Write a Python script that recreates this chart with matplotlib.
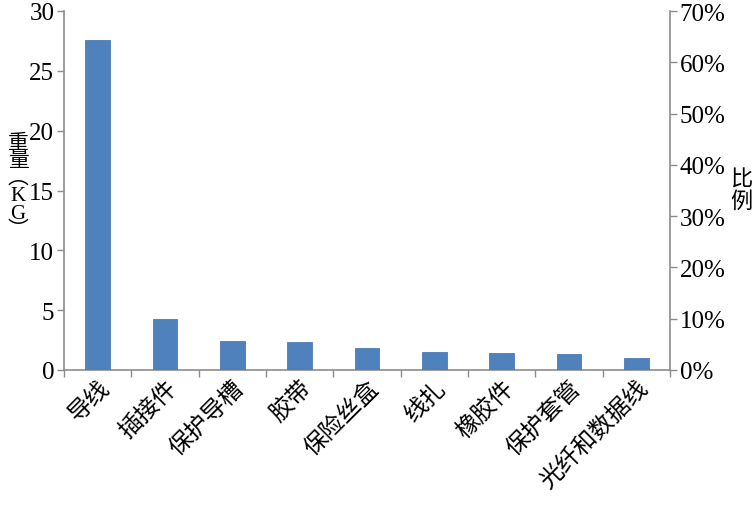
import matplotlib
matplotlib.use("Agg")
import matplotlib.pyplot as plt
import matplotlib.transforms as mtransforms
import numpy as np
from matplotlib.ticker import FixedLocator

categories = ["导线", "插接件", "保护导槽", "胶带", "保险丝盒", "线扎", "橡胶件", "保护套管", "光纤和数据线"]
weights = [27.6, 4.25, 2.45, 2.3, 1.8, 1.52, 1.39, 1.31, 0.98]
left_ticks = [0, 5, 10, 15, 20, 25, 30]
right_ticks = [0, 10, 20, 30, 40, 50, 60, 70]

cjk = ["Noto Sans CJK SC", "DejaVu Sans"]
serif = ["Liberation Serif", "DejaVu Serif"]
mixed = ["Liberation Serif", "Noto Sans CJK SC", "DejaVu Sans"]
gray = "#8c8c8c"

fig = plt.figure(figsize=(7.56, 5.06), dpi=100)
ax = fig.add_axes([64/756, 1-371/506, (670-64)/756, (371-12)/506])
x = np.arange(len(categories))
ax.bar(x, weights, width=0.37, color="#4F81BD", edgecolor="#4A7AB5", linewidth=0.6, zorder=3)
ax.set_xlim(-0.5, len(categories)-0.5)
ax.set_ylim(0, 30)
ax.set_yticks(left_ticks)
ax.set_yticklabels([str(t) for t in left_ticks], fontfamily=serif, fontsize=18)
ax.xaxis.set_major_locator(FixedLocator(np.arange(-0.5, len(categories), 1.0)))
ax.set_xticklabels([])
ax.xaxis.set_minor_locator(FixedLocator(x))
labels = ax.set_xticklabels(categories, minor=True, rotation=45, ha="right", va="top",
                            rotation_mode="anchor", fontfamily=cjk, fontsize=17)
offset = mtransforms.ScaledTranslation(10/100, 0, fig.dpi_scale_trans)
for lab in labels:
    lab.set_transform(lab.get_transform() + offset)
ax.tick_params(axis="x", which="minor", length=0, pad=4)
ax.tick_params(axis="x", which="major", length=5, color=gray, width=1)
ax.tick_params(axis="y", length=5, color=gray, width=1, pad=2)
for s in ["top", "right"]:
    ax.spines[s].set_visible(False)
for s in ["left", "bottom"]:
    ax.spines[s].set_color(gray)
    ax.spines[s].set_linewidth(1.2)

ax2 = ax.twinx()
ax2.set_ylim(0, 70)
ax2.set_yticks(right_ticks)
ax2.set_yticklabels([f"{t}%" for t in right_ticks], fontfamily=serif, fontsize=18)
ax2.tick_params(axis="y", length=5, color=gray, width=1, pad=2)
for s in ["top", "left", "bottom"]:
    ax2.spines[s].set_visible(False)
ax2.spines["right"].set_color(gray)
ax2.spines["right"].set_linewidth(1.2)

fig.text(18/756, 1-188/506, "重\n量\n︵\nK\nG\n︶", fontfamily=mixed, fontsize=15,
         ha="center", va="center", linespacing=0.9)
fig.text(741/756, 1-190/506, "比\n例", fontfamily=cjk, fontsize=16,
         ha="center", va="center", linespacing=0.95)

fig.savefig("out.png", dpi=100)
